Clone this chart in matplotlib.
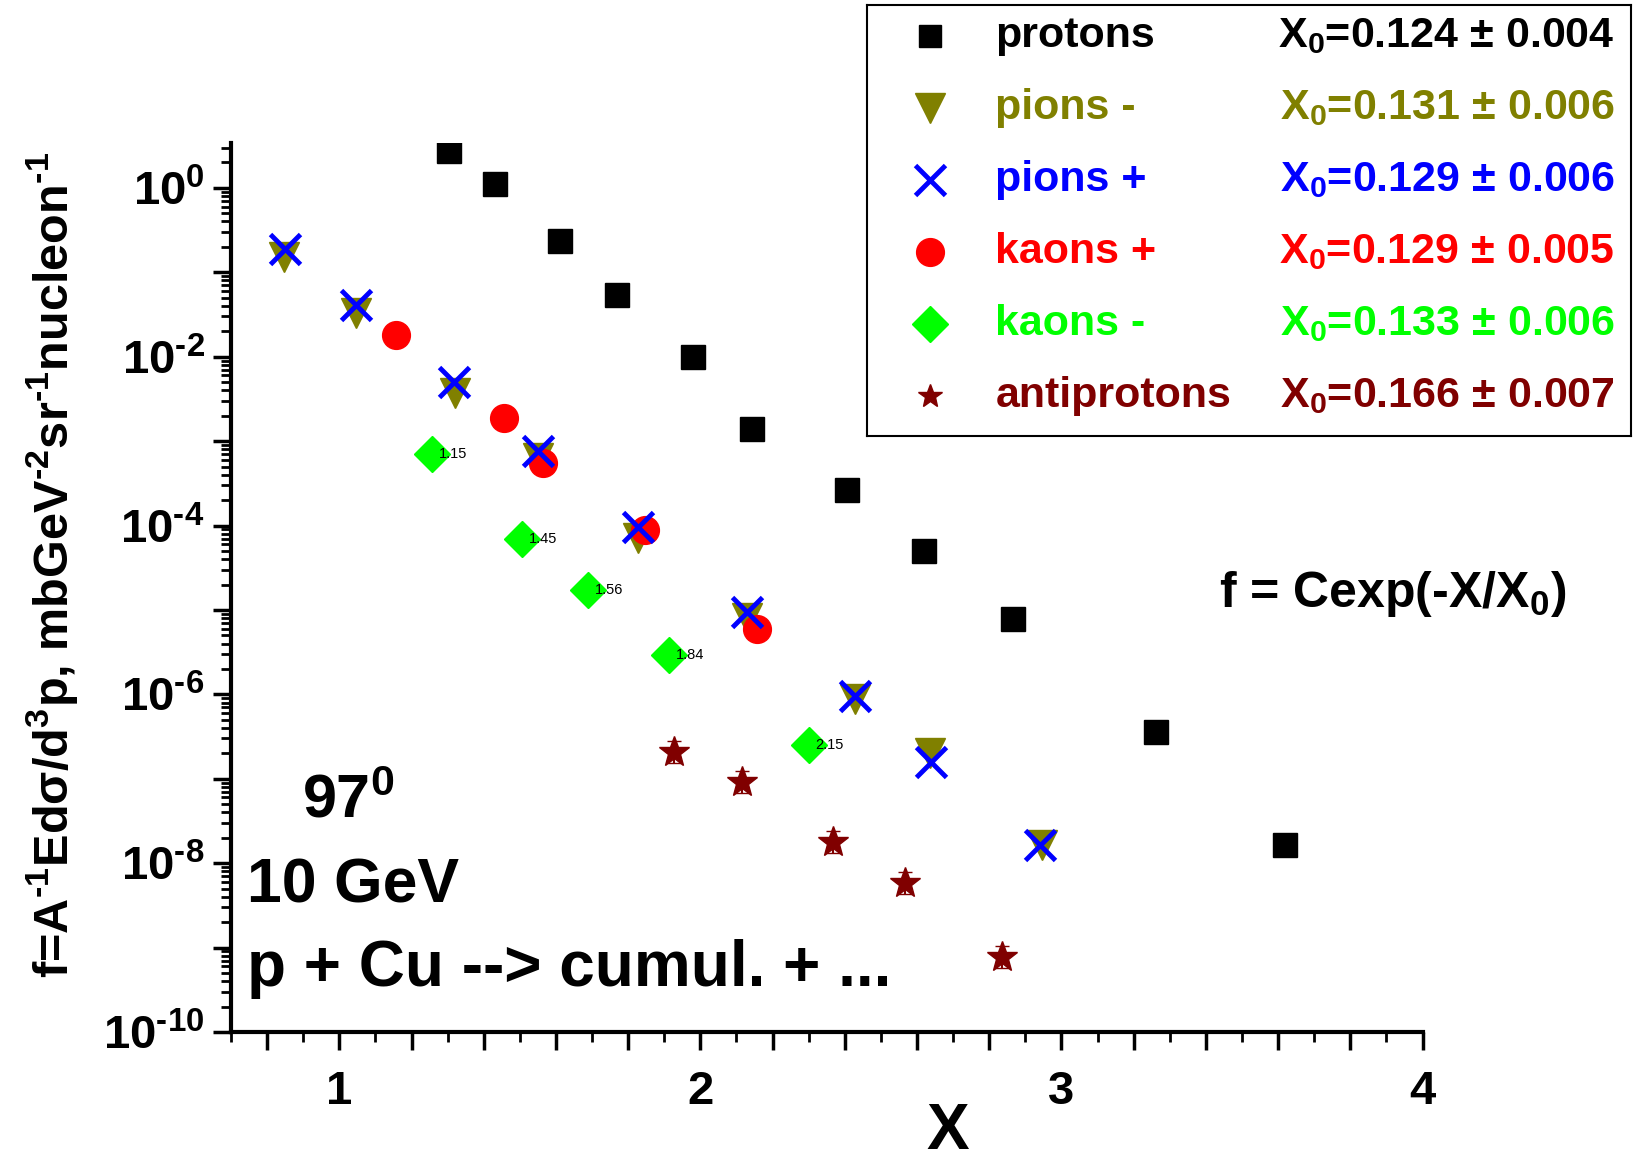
import math

import matplotlib

matplotlib.use("Agg")
import matplotlib.pyplot as plt
from matplotlib.ticker import MultipleLocator, FuncFormatter, LogLocator, NullFormatter

plt.rcParams["font.family"] = ["Liberation Sans", "DejaVu Sans"]
plt.rcParams["font.weight"] = "bold"
plt.rcParams["mathtext.fontset"] = "custom"
plt.rcParams["mathtext.rm"] = "Liberation Sans:bold"
plt.rcParams["mathtext.it"] = "Liberation Sans:italic:bold"
plt.rcParams["mathtext.bf"] = "Liberation Sans:bold"
plt.rcParams["mathtext.sf"] = "Liberation Sans:bold"
plt.rcParams["mathtext.default"] = "rm"

HY = "\u2010"  # short hyphen used in the exponents instead of the long minus

# ---- data ----
protons_x = [1.305, 1.432, 1.611, 1.769, 1.980, 2.144, 2.406, 2.620, 2.867, 3.262, 3.620]
protons_y = [2.7, 1.12, 0.234, 0.054, 0.0100, 1.4e-3, 2.6e-4, 5.0e-5, 7.8e-6, 3.6e-7, 1.66e-8]

pim_x = [0.847, 1.046, 1.320, 1.550, 1.827, 2.130, 2.427, 2.637, 2.945]
pim_y = [0.150, 0.033, 3.7e-3, 6.3e-4, 7.2e-5, 8.0e-6, 8.8e-7, 2.0e-7, 1.65e-8]
pim_rel_err = [0.45, 0.45, 0.45, 0.45, 0.45, 0.45, 0.45, 0.45, 0.45]

pip_x = [0.850, 1.046, 1.317, 1.550, 1.827, 2.130, 2.427, 2.640, 2.942]
pip_y = [0.187, 0.041, 5.0e-3, 7.7e-4, 9.7e-5, 9.5e-6, 9.5e-7, 1.58e-7, 1.62e-8]

kp_x = [1.156, 1.455, 1.565, 1.847, 2.158]
kp_y = [0.018, 1.9e-3, 5.5e-4, 8.9e-5, 6.0e-6]

km_x = [1.256, 1.507, 1.689, 1.914, 2.300]
km_y = [7.1e-4, 6.9e-5, 1.7e-5, 2.9e-6, 2.5e-7]
km_tags = ["1.15", "1.45", "1.56", "1.84", "2.15"]

pbar_x = [1.928, 2.115, 2.366, 2.568, 2.836]
pbar_y = [2.1e-7, 9.2e-8, 1.77e-8, 5.8e-9, 7.8e-10]
pbar_rel_err = [0.35, 0.35, 0.35, 0.35, 0.35]

names = ["protons", "pions -", "pions +", "kaons +", "kaons -", "antiprotons"]
x0_text = [r"X$_0$=0.124 ± 0.004", r"X$_0$=0.131 ± 0.006", r"X$_0$=0.129 ± 0.006",
           r"X$_0$=0.129 ± 0.005", r"X$_0$=0.133 ± 0.006", r"X$_0$=0.166 ± 0.007"]
colors = ["#000000", "#808000", "#0000ff", "#ff0000", "#00ff00", "#800000"]
markers = ["s", "v", "x", "o", "D", "*"]

W, H = 1634, 1159
fig = plt.figure(figsize=(W / 100, H / 100), dpi=100)
ax = fig.add_axes([231 / W, 127 / H, (1422.5 - 231) / W, (1031.7 - 142.8) / H])


def asym(vals, errs):
    return [[v * e / (1 + e) for v, e in zip(vals, errs)], [v * e for v, e in zip(vals, errs)]]


ax.plot(protons_x, protons_y, ls="none", marker="s", ms=17, color=colors[0], zorder=3)
ax.errorbar(pim_x, pim_y, yerr=asym(pim_y, pim_rel_err),
            ls="none", marker="v", ms=22, color=colors[1], ecolor=colors[1],
            elinewidth=1.5, capsize=0, zorder=3)
ax.plot(kp_x, kp_y, ls="none", marker="o", ms=20, color=colors[3], zorder=4)
ax.plot(pip_x, pip_y, ls="none", marker="x", ms=21, mew=3.5, color=colors[2], zorder=5)
ax.plot(km_x, km_y, ls="none", marker="D", ms=18, color=colors[4], zorder=3)
for x, y, t in zip(km_x, km_y, km_tags):
    ax.annotate(t, (x, y), xytext=(5, 0), textcoords="offset points", va="center",
                ha="left", fontsize=10.5, fontweight="normal", color="black", zorder=6)
ax.errorbar(pbar_x, pbar_y, yerr=asym(pbar_y, pbar_rel_err),
            ls="none", marker="*", ms=23, color=colors[5], ecolor=colors[5],
            elinewidth=1.5, capsize=5, zorder=3)

ax.set_yscale("log")
ax.set_xlim(0.7, 4.0)
ax.set_ylim(1e-10, 10 ** 0.53)

for s in ("top", "right"):
    ax.spines[s].set_visible(False)
for s in ("left", "bottom"):
    ax.spines[s].set_linewidth(3)

ax.xaxis.set_major_locator(MultipleLocator(0.2))
ax.xaxis.set_minor_locator(MultipleLocator(0.1))
ax.xaxis.set_major_formatter(FuncFormatter(
    lambda v, p: f"{int(round(v))}" if abs(v - round(v)) < 1e-6 else ""))
ax.yaxis.set_major_locator(LogLocator(base=10, numticks=20))
ax.yaxis.set_minor_locator(LogLocator(base=10, subs=range(2, 10), numticks=40))
ax.yaxis.set_minor_formatter(NullFormatter())


def ylab(v, p):
    e = int(round(math.log10(v)))
    if e % 2:
        return ""
    s = f"{HY}{-e}" if e < 0 else f"{e}"
    return rf"$10^{{{s}}}$"


ax.yaxis.set_major_formatter(FuncFormatter(ylab))
ax.tick_params(which="major", direction="out", length=13, width=2.5, labelsize=34)
ax.tick_params(which="minor", direction="out", length=7, width=2)
ax.tick_params(axis="x", which="major", pad=14)
ax.tick_params(axis="y", which="major", pad=6)

fig.text(948 / W, 1 - 1132 / H, "X", fontsize=46, ha="center", va="center")
fig.text(52 / W, 1 - 565 / H,
         rf"f=A$^{{{HY}1}}$Edσ/d$^{{3}}$p, mbGeV$^{{{HY}2}}$sr$^{{{HY}1}}$nucleon$^{{{HY}1}}$",
         rotation=90, fontsize=35, ha="center", va="center")

fig.text(302 / W, 1 - 802 / H, r"97$^{0}$", fontsize=44, ha="left", va="center")
fig.text(247 / W, 1 - 886 / H, "10 GeV", fontsize=45, ha="left", va="center")
fig.text(247 / W, 1 - 969 / H, "p + Cu --> cumul. + ...", fontsize=46, ha="left", va="center")
fig.text(1219 / W, 1 - 594 / H, r"f = Cexp(-X/X$_0$)", fontsize=36, ha="left", va="center")

# legend box
lg = fig.add_axes([867 / W, 1 - 436 / H, 764 / W, 431 / H])
lg.set_xlim(0, 1)
lg.set_ylim(0, 1)
lg.set_xticks([])
lg.set_yticks([])
for s in lg.spines.values():
    s.set_linewidth(1.5)
leg_ms = [16, 22, 21, 20, 18, 18]
for i, (nm, xt, c, m, ms) in enumerate(zip(names, x0_text, colors, markers, leg_ms)):
    yy = 1 - (0.073 + i * 0.1667)
    lg.plot([0.082], [yy], ls="none", marker=m, ms=ms, color=c,
            mew=3.5 if m == "x" else 1)
    lg.text(0.168, yy, nm, color=c, fontsize=31, ha="left", va="center")
    lg.text(0.979, yy, xt, color=c, fontsize=31, ha="right", va="center")

fig.savefig("out.png", dpi=100)
